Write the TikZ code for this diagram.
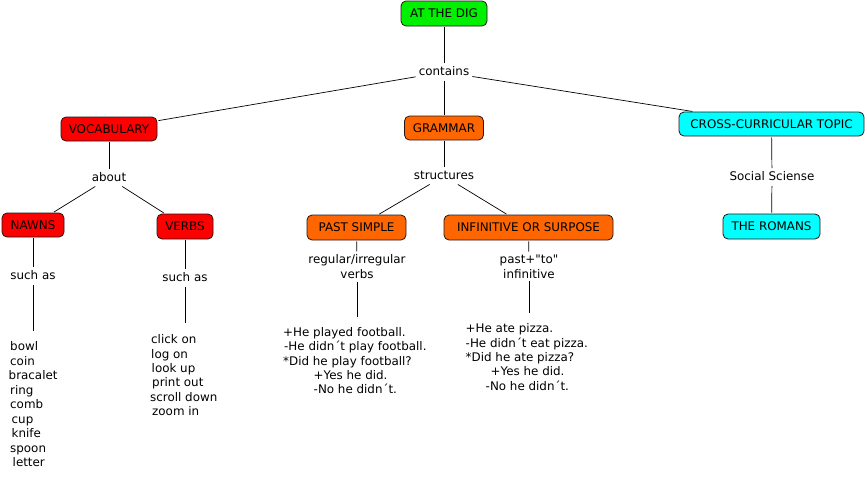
\documentclass[tikz,border=0pt]{standalone}
\usepackage{fontspec}
\newfontfamily\mapfont{DejaVu Sans}
\definecolor{cgreen}{RGB}{0,240,0}
\definecolor{cred}{RGB}{255,0,0}
\definecolor{corange}{RGB}{255,102,0}
\definecolor{ccyan}{RGB}{0,255,255}
\definecolor{cborder}{RGB}{40,20,20}
\begin{document}
\begin{tikzpicture}[x=1pt,y=-1pt,
  every node/.style={font=\mapfont\fontsize{11.9}{14.5}\selectfont},
  concept/.style={draw=cborder, line width=0.8pt, rounded corners=5pt, inner sep=0pt, align=center},
  linklabel/.style={inner sep=2pt, text height=9pt, text depth=2.5pt},
  linklabeltwo/.style={inner sep=2pt, align=center},
  listtext/.style={inner sep=0pt, anchor=base west},
  conn/.style={draw=black, line width=0.7pt, shorten <=1pt, shorten >=1pt}]
\useasboundingbox[fill=white] (0,0) rectangle (867,477);

% concepts
\node[concept, fill=cgreen, minimum width=86pt, minimum height=25pt] (dig) at (444,13.5) {AT THE DIG};
\node[concept, fill=cred, minimum width=96pt, minimum height=24pt] (vocab) at (109,129) {VOCABULARY};
\node[concept, fill=corange, minimum width=79pt, minimum height=24pt] (grammar) at (444,128) {GRAMMAR};
\node[concept, fill=ccyan, minimum width=185pt, minimum height=24pt] (cct) at (771.5,124) {CROSS-CURRICULAR TOPIC};
\node[concept, fill=cred, minimum width=62pt, minimum height=24pt] (nawns) at (33,225) {NAWNS};
\node[concept, fill=cred, minimum width=56pt, minimum height=25pt] (verbs) at (185,226.5) {VERBS};
\node[concept, fill=corange, minimum width=99pt, minimum height=25pt] (past) at (356.5,227.5) {PAST SIMPLE};
\node[concept, fill=corange, minimum width=169pt, minimum height=25pt] (inf) at (528.5,227.5) {INFINITIVE OR SURPOSE};
\node[concept, fill=ccyan, minimum width=97pt, minimum height=25pt] (romans) at (771.5,226.5) {THE ROMANS};

% link labels
\node[linklabel] (contains) at (444,72) {contains};
\node[linklabel] (about) at (109,178) {about};
\node[linklabel] (suchn) at (33,276) {such as};
\node[linklabel] (suchv) at (185,278) {such as};
\node[linklabel] (structures) at (444,176) {structures};
\node[linklabel] (social) at (772,177) {Social Sciense};
\node[linklabeltwo] (regular) at (357,266.5) {regular/irregular\\verbs};
\node[linklabeltwo] (pastto) at (529,266.5) {past+"to"\\infinitive};

% free ends
\coordinate (nend) at (33,332);
\coordinate (vend) at (185,324);
\coordinate (pend) at (357,318);
\coordinate (iend) at (529,314);

% connectors
\draw[conn] (dig) -- (contains);
\draw[conn] (contains) -- (vocab);
\draw[conn] (contains) -- (grammar);
\draw[conn] (contains) -- (cct);
\draw[conn] (vocab) -- (about);
\draw[conn] (about) -- (nawns);
\draw[conn] (about) -- (verbs);
\draw[conn] (nawns) -- (suchn);
\draw[conn] (suchn) -- (nend);
\draw[conn] (verbs) -- (suchv);
\draw[conn] (suchv) -- (vend);
\draw[conn] (grammar) -- (structures);
\draw[conn] (structures) -- (past);
\draw[conn] (structures) -- (inf);
\draw[conn] (past) -- (regular);
\draw[conn] (regular) -- (pend);
\draw[conn] (inf) -- (pastto);
\draw[conn] (pastto) -- (iend);
\draw[conn] (cct) -- (social);
\draw[conn] (social) -- (romans);

% lists
\foreach \t/\x/\y [count=\i] in {bowl/10/350, coin/10/365, bracalet/8.5/379, ring/10/394, comb/10/408, cup/11.5/423, knife/11.5/437, spoon/10/452, letter/12.5/466.5}
  \node[listtext] (nl\i) at (\x,\y) {\t};
\foreach \t/\x/\y [count=\i] in {click on/151/343, log on/151/358, look up/151.5/372, print out/152/386, scroll down/150/401, zoom in/152/415}
  \node[listtext] (vl\i) at (\x,\y) {\t};
\foreach \t/\x/\y [count=\i] in {+He played football./283/336, -He didn´t play football./284/350, *Did he play football?/283/365, +Yes he did./313.5/379, -No he didn´t./313.5/393}
  \node[listtext] (pl\i) at (\x,\y) {\t};
\foreach \t/\x/\y [count=\i] in {+He ate pizza./465.5/332, -He didn´t eat pizza./465.5/347, *Did he ate pizza?/465.5/361, +Yes he did./490.5/375, -No he didn´t./485.5/390}
  \node[listtext] (il\i) at (\x,\y) {\t};
\end{tikzpicture}
\end{document}
